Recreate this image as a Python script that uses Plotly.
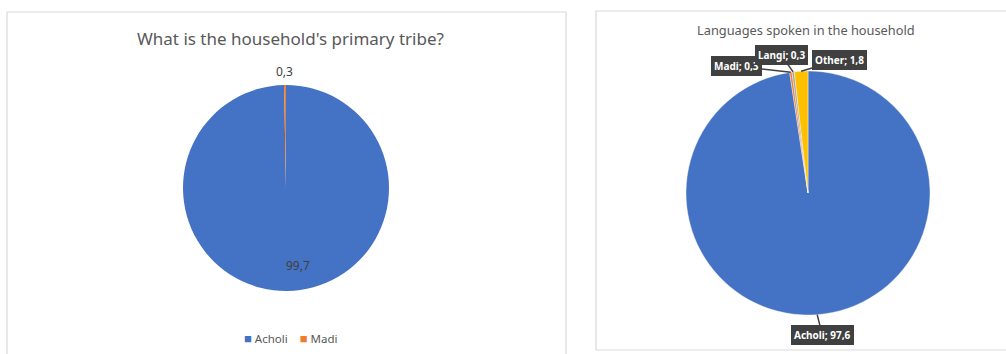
import math
import plotly.graph_objects as go

W, H = 1006, 354

# ---- data ----
tribe_labels = ["Acholi", "Madi"]
tribe_values = [99.7, 0.3]
tribe_colors = ["#4472C4", "#ED7D31"]

lang_labels = ["Acholi", "Madi", "Langi", "Other"]
lang_values = [97.6, 0.3, 0.3, 1.8]
lang_colors = ["#4472C4", "#ED7D31", "#A5A5A5", "#FFC000"]

left_title = "What is the household's primary tribe?"
right_title = "Languages spoken in the household"

FONT = "Noto Sans"
GREY = "#595959"


def px(x):
    return x / W


def py(y):
    return 1 - y / H


def fmt(v):
    return f"{v:.1f}".replace(".", ",")


# pie geometry (pixels)
L_CX, L_CY, L_R = 286, 188, 103
R_CX, R_CY, R_R = 808, 193, 122

fig = go.Figure()

fig.add_trace(go.Pie(
    labels=tribe_labels, values=tribe_values,
    marker=dict(colors=tribe_colors, line=dict(color="white", width=0)),
    sort=False, direction="clockwise", rotation=0,
    textinfo="none", hoverinfo="label+value",
    domain=dict(x=[px(L_CX - L_R), px(L_CX + L_R)], y=[py(L_CY + L_R), py(L_CY - L_R)]),
    showlegend=False,
))

fig.add_trace(go.Pie(
    labels=[l + " " for l in lang_labels], values=lang_values,
    marker=dict(colors=lang_colors, line=dict(color="white", width=0.4)),
    sort=False, direction="clockwise", rotation=0,
    textinfo="none", hoverinfo="label+value",
    domain=dict(x=[px(R_CX - R_R), px(R_CX + R_R)], y=[py(R_CY + R_R), py(R_CY - R_R)]),
    showlegend=False,
))

annotations = []

# left pie labels
tot = sum(tribe_values)
cum = 0
left_offsets = {0: (0.76, -8), 1: (1.13, 0)}  # radial factor, angle shift (deg)
for i, v in enumerate(tribe_values):
    mid = (cum + v / 2) / tot * 360
    cum += v
    rf, sh = left_offsets[i]
    a = math.radians(mid + sh)
    x = L_CX + L_R * rf * math.sin(a)
    y = L_CY - L_R * rf * math.cos(a)
    annotations.append(dict(
        x=px(x), y=py(y), xref="paper", yref="paper", text=fmt(v),
        xanchor="center", yanchor="middle",
        showarrow=False, font=dict(family=FONT, size=12, color="#404040"),
    ))

# right pie callouts
tot = sum(lang_values)
cum = 0
callout_offsets = [(5, 20), (-54, -6), (-12, -17), (38, -11)]
for i, v in enumerate(lang_values):
    mid = (cum + v / 2) / tot * 360
    cum += v
    a = math.radians(mid)
    x = R_CX + R_R * math.sin(a)
    y = R_CY - R_R * math.cos(a)
    ax, ay = callout_offsets[i]
    annotations.append(dict(
        x=px(x), y=py(y), xref="paper", yref="paper",
        text=f"<b>{lang_labels[i]}; {fmt(v)}</b>",
        showarrow=True, arrowhead=0, arrowwidth=1.5, arrowcolor="#404040",
        ax=ax, ay=ay, standoff=0,
        bgcolor="#404040", bordercolor="#404040", borderpad=2,
        font=dict(family=FONT, size=10, color="white"),
    ))

# titles
annotations.append(dict(x=px(290), y=py(38), xref="paper", yref="paper", text=left_title,
                        xanchor="center", yanchor="middle",
                        showarrow=False, font=dict(family=FONT, size=17, color=GREY)))
annotations.append(dict(x=px(806), y=py(30), xref="paper", yref="paper", text=right_title,
                        xanchor="center", yanchor="middle",
                        showarrow=False, font=dict(family=FONT, size=12.8, color=GREY)))

# legend (left chart)
legend_text = "&nbsp;&nbsp;&nbsp;&nbsp;".join(
    f"<span style='color:{c};font-size:13px'>■</span>&nbsp;{l}" for l, c in zip(tribe_labels, tribe_colors)
)
annotations.append(dict(x=px(290), y=py(338), xref="paper", yref="paper", text=legend_text,
                        xanchor="center", yanchor="middle",
                        showarrow=False, font=dict(family=FONT, size=11.5, color=GREY)))

shapes = [
    dict(type="rect", xref="paper", yref="paper", x0=px(7), x1=px(566), y0=py(362), y1=py(12),
         line=dict(color="#D9D9D9", width=1.2), fillcolor="rgba(0,0,0,0)", layer="below"),
    dict(type="rect", xref="paper", yref="paper", x0=px(596), x1=px(1012), y0=py(350), y1=py(11),
         line=dict(color="#D9D9D9", width=1.2), fillcolor="rgba(0,0,0,0)", layer="below"),
]

fig.update_layout(
    width=W, height=H, margin=dict(l=0, r=0, t=0, b=0),
    paper_bgcolor="white", plot_bgcolor="white",
    separators=",.",
    annotations=annotations, shapes=shapes,
    showlegend=False,
    font=dict(family=FONT),
)

fig.write_html("out.html")
